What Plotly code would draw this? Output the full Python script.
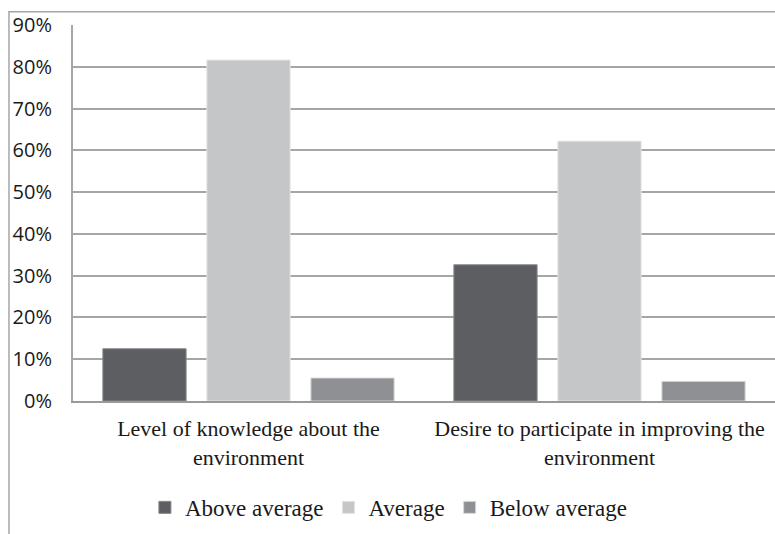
import plotly.graph_objects as go

# Survey results, share of respondents (%)
categories = [
    "Level of knowledge about the<br>environment",
    "Desire to participate in improving the<br>environment",
]
above_average = [12.5, 32.6]
average = [81.6, 62.2]
below_average = [5.5, 4.7]

series = [
    ("Above average", above_average, "#5d5e62", "#85868a"),
    ("Average", average, "#c5c6c8", "#e2e3e4"),
    ("Below average", below_average, "#8f9094", "#d6d7d9"),
]

fig = go.Figure()
for name, values, fill, edge in series:
    fig.add_trace(go.Bar(
        x=categories, y=values, name=name,
        marker=dict(color=fill, line=dict(color=edge, width=1)),
    ))

grid = "#a6a6a6"
fig.update_layout(
    width=775, height=534,
    margin=dict(l=73, r=0, t=25, b=133),
    paper_bgcolor="white", plot_bgcolor="white",
    barmode="group", bargap=0.111, bargroupgap=0.2,
    showlegend=True,
    legend=dict(
        orientation="h", x=0.45, xanchor="center", y=-0.283, yanchor="middle",
        font=dict(family="Liberation Serif", size=23, color="#1a1a1a"),
        itemwidth=30, traceorder="normal",
    ),
    xaxis=dict(
        showgrid=False, showline=True, linecolor="#9a9a9a", linewidth=2,
        ticks="", ticklabelstandoff=7,
        tickfont=dict(family="Liberation Serif", size=22, color="#1a1a1a"),
    ),
    yaxis=dict(
        range=[0, 90], dtick=10, ticksuffix="%",
        showgrid=True, gridcolor=grid, gridwidth=1.5,
        showline=True, linecolor=grid, linewidth=2,
        zeroline=False, ticks="", ticklabelstandoff=15,
        tickfont=dict(family="Open Sans", size=20, color="#1a1a1a"),
    ),
    shapes=[
        # outer chart frame
        dict(type="rect", xref="paper", yref="paper",
             x0=-0.0912, x1=1.01, y0=-0.5, y1=1.035,
             line=dict(color=grid, width=1.5), layer="below"),
    ],
)

fig.write_html("out.html")
